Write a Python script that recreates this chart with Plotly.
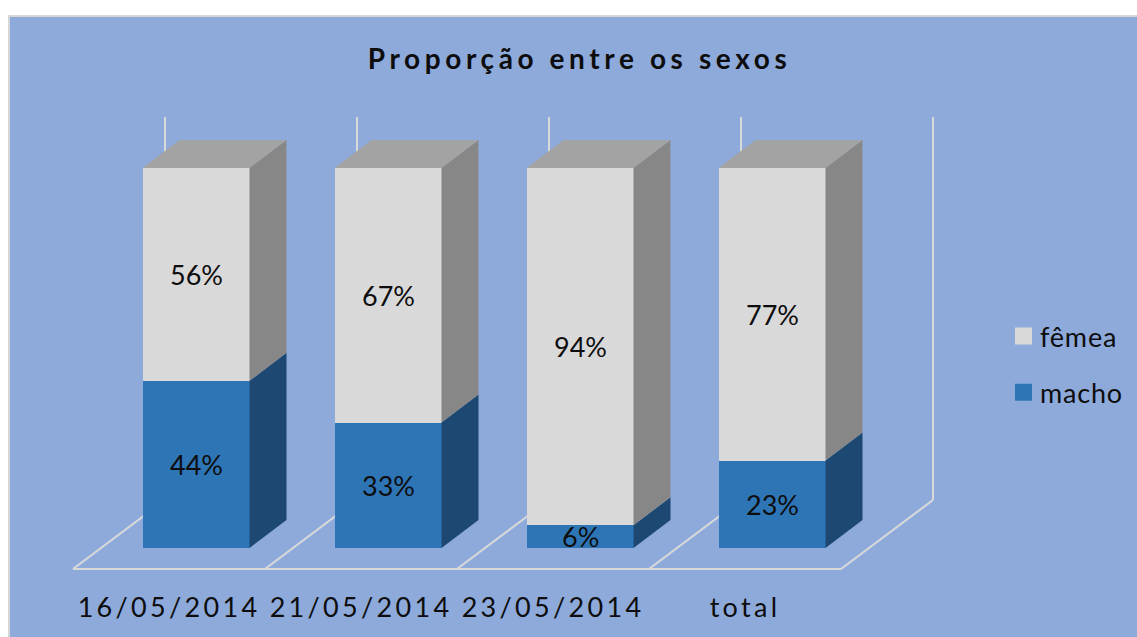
import plotly.graph_objects as go

categories = ["16/05/2014", "21/05/2014", "23/05/2014", "total"]
macho = [44, 33, 6, 23]
femea = [56, 67, 94, 77]
title_text = "Proporção entre os sexos"

W, H = 1137, 637
L, R, T, B = 60, 945, 100, 575      # plot box in page pixels
STEP = 192.0                        # px per category
UNIT = 3.8                          # px per percent
X0, Y0 = 196.0, 548.0               # px of category 0 / value 0

def dx(px): return px / STEP
def dy(px): return px / UNIT
def xd(px): return (px - X0) / STEP
def yd(px): return (Y0 - px) / UNIT
def xp(px): return (px - L) / (R - L)
def yp(px): return (B - px) / (B - T)

BG = "#8EAADB"
FRAME = "#D6D6D6"
GREY, BLUE = "#D9D9D9", "#2E75B6"
GREY_SIDE, BLUE_SIDE, TOP = "#878787", "#1C4872", "#A3A3A3"
INK = "#0D0D0D"
FONT = "Lato"

bar_w = dx(107)
dep_x, dep_y = dx(37), dy(28)
xs = list(range(len(categories)))

fig = go.Figure()

# front faces
fig.add_bar(x=xs, y=macho, width=bar_w, marker=dict(color=BLUE, line_width=0), showlegend=False, hoverinfo="skip")
fig.add_bar(x=xs, y=femea, width=bar_w, marker=dict(color=GREY, line_width=0), showlegend=False, hoverinfo="skip")

# side and top faces, built from the values
def poly(x, y, color):
    fig.add_scatter(x=x, y=y, mode="lines", fill="toself", fillcolor=color,
                    line=dict(width=0, color=color), showlegend=False, hoverinfo="skip")

for i, (m, f) in enumerate(zip(macho, femea)):
    r = i + bar_w / 2
    l = i - bar_w / 2
    poly([r, r + dep_x, r + dep_x, r, r], [0, dep_y, m + dep_y, m, 0], BLUE_SIDE)
    poly([r, r + dep_x, r + dep_x, r, r], [m, m + dep_y, m + f + dep_y, m + f, m], GREY_SIDE)
    poly([l, l + dep_x, r + dep_x, r, l], [m + f, m + f + dep_y, m + f + dep_y, m + f, m + f], TOP)

# value labels
for vals, base in ((macho, [0] * 4), (femea, macho)):
    for i, (v, b) in enumerate(zip(vals, base)):
        fig.add_annotation(x=i, y=b + v / 2, text=f"{v}%", showarrow=False, yshift=0,
                           font=dict(family=FONT, size=27, color=INK))

# legend entries
for name, color in (("fêmea", GREY), ("macho", BLUE)):
    fig.add_scatter(x=[None], y=[None], mode="markers", name=name,
                    legendgroup=name,
                    marker=dict(symbol="square", size=13, color=color, line=dict(width=4, color=color)))

# frame, floor, walls
shapes = [dict(type="rect", xref="paper", yref="paper", layer="below",
               x0=xp(9), x1=xp(1150), y0=yp(16), y1=yp(650),
               fillcolor=BG, line=dict(color=FRAME, width=2))]
line = dict(color="#D9D9D9", width=2)
floor_px, back_px, wall_top = 569, 500, 117
for i in range(5):
    a = 73 + STEP * i
    b = a + 92
    shapes.append(dict(type="line", layer="below", x0=xd(a), x1=xd(b), y0=yd(floor_px), y1=yd(back_px), line=line))
    shapes.append(dict(type="line", layer="below", x0=xd(b), x1=xd(b), y0=yd(back_px), y1=yd(wall_top), line=line))
shapes.append(dict(type="line", layer="below", x0=xd(73), x1=xd(73 + STEP * 4), y0=yd(floor_px), y1=yd(floor_px), line=line))

fig.update_layout(
    width=W, height=H, autosize=False,
    margin=dict(l=L, r=W - R, t=T, b=H - B),
    paper_bgcolor="white", plot_bgcolor="rgba(0,0,0,0)",
    barmode="stack", bargap=0, shapes=shapes,
    title=dict(text=f"<b>{title_text}</b>", xref="container", yref="container",
               x=579.5 / W, xanchor="center", y=1 - 59 / H, yanchor="middle",
               font=dict(family=FONT, size=28, color=INK)),
    xaxis=dict(range=[xd(L), xd(R)], tickvals=[i - dx(27) for i in xs], ticktext=categories,
               showgrid=False, zeroline=False, showline=False, ticks="",
               ticklabelstandoff=14, tickangle=0,
               tickfont=dict(family=FONT, size=27, color=INK)),
    yaxis=dict(range=[yd(B), yd(T)], visible=False),
    legend=dict(x=(1000 - L) / (R - L), xanchor="left", y=(B - 312) / (B - T), yanchor="top",
                bgcolor="rgba(0,0,0,0)", font=dict(family=FONT, size=27, color=INK),
                tracegroupgap=18, traceorder="grouped"),
)

css = (".gtitle{letter-spacing:4.6px}"
       ".xtick text{letter-spacing:3.3px}"
       ".legendtext{letter-spacing:0.8px}"
       ".legendsymbols{transform:translate(3.5px,0)}")
post = ("document.body.style.margin='0';"
        "var s=document.createElement('style');s.textContent=%r;document.head.appendChild(s);" % css)
fig.write_html("out.html", post_script=post, config={"displayModeBar": False})
